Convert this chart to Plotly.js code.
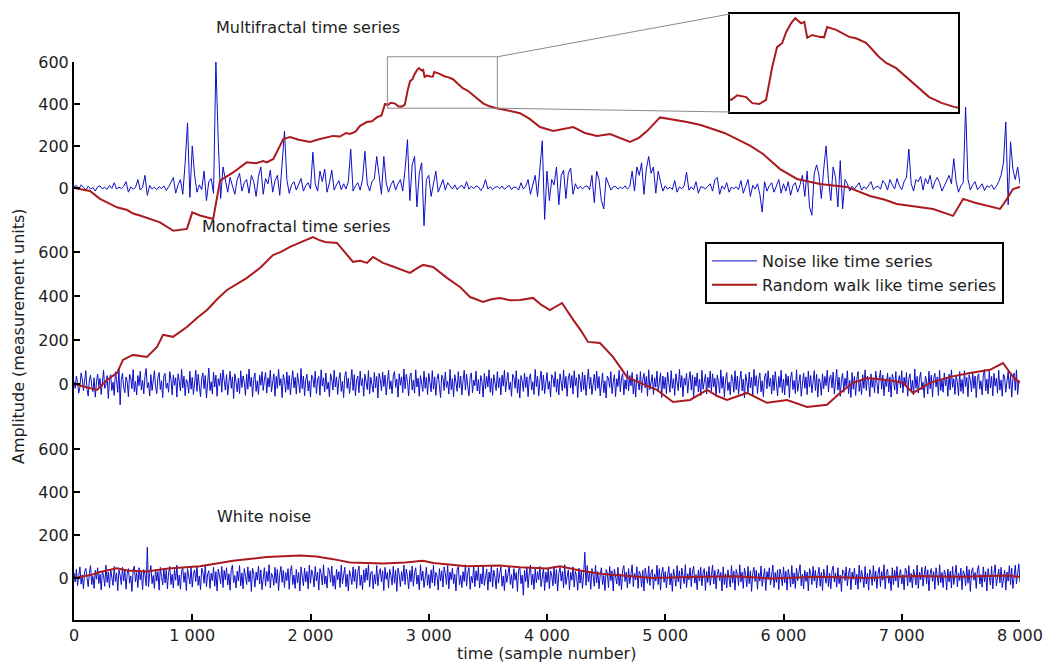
<!DOCTYPE html>
<html>
<head>
<meta charset="utf-8">
<script src="https://cdn.plot.ly/plotly-3.0.1.min.js"></script>
<style>html,body{margin:0;padding:0;background:#fff;}#chart{width:1053px;height:666px;}</style>
</head>
<body>
<div id="chart"></div>
<script>
// ---------------- DATA ----------------
// x-axis ticks
const timeTicks = [0, 1000, 2000, 3000, 4000, 5000, 6000, 7000, 8000];
const timeTickText = ['0', '1 000', '2 000', '3 000', '4 000', '5 000', '6 000', '7 000', '8 000'];
const ampTicks = [0, 200, 400, 600];

// Multifractal noise, one value every 20 samples (t = 0 ... 8000)
const multifractalNoise = [
  5, 12, -8, 15, 3, -10, 8, -5, 2, -15, 6, 10, -4, 3, -7, 12, -2, 25, -5, 4,
  -3, 8, 30, -20, 5, -6, 2, 40, -10, 3, 60, -35, 12, -5, 4, -8, 6, -3, 10, -12,
  5, 25, 50, -25, 15, 40, -30, 120, 310, -45, 200, 60, -20, 15, -8, 80, -60, 30, 45, -25,
  600, 220, -50, 100, 35, -20, 50, 15, -30, 40, 70, -15, 25, 40, -25, 60, 30, -40, 55, 100,
  -30, 45, 20, 85, -20, 35, 60, -35, 110, 270, 40, -25, 15, 30, -10, 20, 45, -15, 10, 25,
  -5, 170, 20, -15, 80, 30, 90, -20, 25, 85, -10, 15, 35, -8, 20, -5, 30, 185, -15, 10,
  25, -10, 40, 175, 20, -15, 30, 45, 150, 60, -30, 150, 25, -20, 15, 35, -10, 20, 40, -15,
  90, 230, -60, 110, 150, -90, 70, 120, -180, 40, 60, -40, 30, 80, -20, 15, 40, -10, 25, 10,
  -5, 15, -8, 6, 12, -4, 30, -6, 8, -3, 10, 5, -12, 4, 40, -5, 6, -8, 3, 7,
  -4, 9, -6, 3, 12, -8, 5, 2, -10, 25, -5, 8, 40, -30, 20, 60, -40, 90, 225, -150,
  80, -60, 40, 15, 100, -80, 60, 85, -50, 70, 95, -30, 20, -5, 8, -4, 6, 10, -8, 60,
  -70, 80, 40, -60, -100, 50, 20, -10, 5, 8, -6, 4, -3, 10, -5, 6, 80, -15, 100, 60,
  120, -30, 90, 150, 70, 100, -25, 80, 30, -15, 10, -5, 4, -8, 35, -20, 6, -4, 10, 75,
  -10, 5, -8, 30, -25, 6, 3, -5, 8, 20, -15, 40, 50, -30, 10, -6, 25, -20, 4, -3,
  6, -8, 35, -25, 8, 40, -40, 12, -5, 20, -30, -115, 30, -15, 10, 25, -20, 15, 40, -25,
  20, -15, 30, -35, 10, 25, -20, 15, 60, -40, 80, -90, -130, 70, 110, 60, -50, 90, 200, 40,
  -60, 100, 50, -90, 130, -100, 40, 20, -15, 8, -5, 10, 25, -10, 6, -4, 15, 30, -8, 5,
  8, -6, 35, 20, -10, 40, 15, -5, 45, 10, -8, 30, 50, 185, 20, -15, 40, 30, 55, -10,
  45, 20, 60, -5, 30, 50, 25, -15, 10, 35, 60, 20, 140, 30, -20, 10, 25, 385, 40, -10,
  15, 30, -8, 5, 20, -12, 10, 4, 15, -6, 8, 30, 60, 120, 314, -80, 220, 90, 40, 100,
  20
];
// Monofractal noise, one value every 10 samples (t = 0 ... 8000)
const monofractalNoise = [
  12, -20, 35, 8, -42, -15, 50, 22, -30, 5, 60, -25, -55, 18, 40, -8, -35, 28, -60, 10,
  45, -12, 25, -48, 30, 62, -20, -5, 38, -66, 15, 42, -30, 8, -52, 55, 20, -38, 70, -95,
  20, 48, -15, -40, 32, 10, -58, 44, 26, -22, 65, -35, 12, -50, 38, -8, 58, -28, 16, -45,
  34, 70, -18, 6, -55, 42, -30, 24, 60, -12, -44, 30, 52, -26, 14, -62, 36, 48, -20, 4,
  -38, 56, 22, -50, 40, -6, 28, -60, 46, 12, -32, 66, -18, 35, -54, 20, 8, -42, 58, -24,
  30, -48, 14, 62, -34, 44, -10, -58, 26, 50, -22, 38, -64, 18, 72, -30, 10, -46, 54, -14,
  40, -56, 24, -8, 48, -38, 64, 16, -28, 42, -50, 6, 58, -20, 32, -66, 46, 12, -36, 26,
  -44, 60, -16, 36, 8, -52, 44, -24, 68, -12, 30, -58, 22, 50, -34, 14, -48, 40, -6, 56,
  -30, 18, 52, -42, 28, -14, 62, -36, 10, 46, -56, 34, -20, 66, -8, 24, -62, 42, 16, -38,
  54, -26, 38, -50, 12, 60, -18, 30, -46, 48, 6, -40, 70, -22, 36, -54, 20, 44, -32, 14,
  -60, 40, 26, -16, 58, -44, 18, 34, -52, 64, -10, 28, -36, 50, -24, 8, -58, 46, 22, -28,
  62, -14, 32, -48, 20, 52, -34, 12, -62, 38, 56, -20, 26, -44, 10, 66, -30, 42, -54, 18,
  36, -40, 58, -8, 24, -56, 44, 16, -26, 60, -46, 30, 4, -38, 52, -18, 34, -64, 48, 20,
  -32, 54, -12, 40, -50, 28, 62, -24, 14, -44, 36, 56, -16, 22, -60, 46, -6, 32, -40, 68,
  -22, 44, 10, -54, 34, 50, -28, 18, -42, 64, -14, 26, -56, 38, 8, -34, 58, -20, 30, -48,
  48, 14, -36, 60, -24, 32, -52, 20, 46, -10, -62, 40, 28, -30, 54, -16, 12, -46, 66, -26,
  24, -58, 42, 8, -34, 56, -18, 36, -50, 16, 62, -28, 44, -12, -54, 30, 50, -40, 18, -8,
  58, -32, 20, -46, 38, 12, -60, 48, -22, 34, -14, 64, -38, 26, -52, 42, 6, -30, 56, -18,
  28, -50, 40, -10, 62, -36, 16, 52, -26, 8, -56, 44, 30, -20, 60, -42, 22, -64, 38, 14,
  -34, 50, -16, 32, -58, 24, 46, -28, 10, -48, 66, -12, 36, -54, 18, 58, -30, 40, -44, 20,
  52, -24, 12, -60, 42, 30, -14, 56, -38, 22, -50, 46, 8, -32, 64, -20, 34, -56, 26, 48,
  -18, 38, -46, 60, -8, 28, -62, 44, 16, -36, 54, -26, 40, -52, 12, 68, -22, 30, -48, 10,
  44, -30, 58, -20, 34, -54, 20, 50, -40, 14, -64, 36, 26, -16, 56, -44, 8, 42, -58, 24,
  -12, 62, -36, 28, 46, -50, 18, -24, 60, -32, 38, -8, 52, -46, 22, -60, 44, 14, -28, 56,
  -40, 20, 48, -18, 34, -56, 64, -26, 10, 42, -48, 28, -14, 58, -34, 16, 50, -62, 36, -22,
  30, -44, 54, 6, -38, 60, -20, 24, -52, 46, 12, -30, 66, -16, 38, -58, 26, -6, 48, -42,
  18, 56, -28, 40, -62, 32, -10, 50, -36, 22, -54, 62, -24, 14, 44, -46, 30, -18, 58, -34,
  46, -14, 26, -56, 40, 10, -42, 64, -20, 34, -60, 18, 52, -30, 8, -50, 42, 24, -38, 60,
  -26, 36, -48, 16, 58, -32, 22, -64, 44, 12, -40, 54, -18, 30, -52, 66, -10, 38, -44, 20,
  50, -36, 14, -58, 32, 48, -22, 60, -12, 26, -46, 40, -30, 56, 4, -54, 34, -16, 62, -40,
  22, -50, 46, -8, 36, -62, 28, 54, -26, 16, -44, 64, -34, 20, 42, -56, 10, 50, -20, 32,
  -48, 58, -14, 38, -40, 18, 60, -30, 44, -60, 24, 8, -52, 46, -22, 34, -8, 62, -36, 28,
  40, -18, 54, -46, 12, 66, -28, 30, -56, 20, 48, -38, 26, -12, 60, -44, 16, -62, 52, -24,
  34, -52, 22, 56, -34, 14, -48, 42, -20, 64, -30, 36, 10, -58, 46, -16, 28, -40, 58, -6,
  -44, 26, 62, -24, 40, -54, 18, -12, 50, -36, 32, -60, 44, 20, -28, 56, -46, 12, 38, -18,
  60, -40, 30, -10, 52, -56, 24, 46, -32, 16, -50, 68, -20, 34, -42, 22, 54, -26, 8, -62,
  36, 14, -46, 58, -22, 40, -60, 26, 48, -14, 32, -52, 62, -30, 18, -38, 50, -8, 28, -56,
  44, -28, 64, -16, 24, -48, 38, 10, -54, 56, -34, 20, -44, 60, -12, 30, -58, 42, 16, -36,
  54, -20, 36, -62, 28, 46, -24, 14, -50, 40, 66, -32, 22, -46, 58, -18, 34, -54, 48, -10,
  26, -42, 62, -28, 18, -56, 44, 32, -38, 12, 56, -22, 40, -60, 24, 50, -30, 64, -48, 16,
  10
];
// White noise, one value every 10 samples (t = 0 ... 8000)
const whiteNoise = [
  25, -18, 40, -35, 10, 52, -28, 15, -50, 30, 45, -12, -40, 22, 58, -30, 8, -48, 36, -6,
  48, -25, 18, -55, 32, 12, -38, 60, -20, 28, -46, 42, 6, -34, 54, -16, 24, -58, 38, 14,
  -30, 50, -14, 36, -52, 20, 44, -24, 10, -62, 34, 56, -18, 26, -44, 48, -8, 30, -54, 40,
  16, -36, 144, -40, 22, 58, -26, 12, -48, 42, -14, 30, -56, 50, 8, -32, 46, -22, 36, -50,
  24, 54, -30, 18, -46, 40, -10, 60, -36, 14, -52, 32, 48, -20, 26, -58, 44, 6, -28, 52,
  -42, 20, 38, -16, 56, -34, 10, -54, 46, 28, -24, 62, -40, 18, 34, -48, 22, -12, 50, -38,
  30, -60, 42, 14, -26, 54, -44, 36, -8, 48, -32, 20, -56, 40, 60, -22, 12, -46, 32, -14,
  58, -36, 24, -50, 44, 8, -30, 52, -18, 34, -62, 46, 16, -42, 28, -10, 56, -28, 38, -54,
  20, 48, -38, 30, -16, 62, -46, 22, 10, -34, 50, -24, 40, -58, 18, 54, -20, 36, -44, 26,
  -12, 44, -52, 32, 58, -30, 14, -48, 40, -22, 26, -60, 52, 6, -36, 46, -18, 30, -50, 60,
  -24, 38, 16, -42, 54, -14, 28, -56, 44, 20, -32, 62, -28, 10, -46, 48, 34, -20, 56, -38,
  12, -52, 40, -8, 30, -44, 60, -26, 22, 50, -40, 18, -60, 36, 8, -30, 52, -16, 42, -48,
  28, 56, -34, 14, -54, 38, -20, 46, -10, 62, -42, 24, 32, -50, 16, -28, 58, -36, 20, 44,
  -18, 34, -58, 50, -6, 26, -46, 40, 12, -32, 54, -24, 36, -62, 46, 18, -40, 30, -14, 60,
  -30, 42, 8, -50, 36, -18, 56, -38, 24, 48, -28, 14, -54, 62, -12, 32, -44, 20, 50, -34,
  16, -48, 38, -22, 60, -36, 26, 10, -56, 44, -14, 34, -42, 52, 22, -30, 58, -50, 28, -8,
  46, -26, 18, -60, 40, 54, -32, 12, -44, 30, -16, 62, -38, 24, 48, -52, 8, -22, 56, -40,
  34, -12, 50, -46, 20, -28, 58, -34, 14, 42, -56, 28, -18, 60, -42, 36, 4, -50, 46, -24,
  22, 52, -38, 10, -58, 40, -20, 32, 56, -30, 16, -48, 44, -10, 26, -62, 38, 50, -26, 14,
  -80, 36, -16, 48, -44, 24, 60, -32, 18, -52, 42, -22, 30, -8, 54, -40, 12, 46, -58, 28,
  -20, 44, -50, 34, 14, -36, 56, -26, 40, -60, 22, 50, -14, 30, -46, 62, -30, 18, 38, -54,
  26, -10, 52, -42, 32, 8, -56, 46, -24, 36, -48, 20, 120, -34, 58, -18, 28, -52, 44, 10,
  -38, 60, -22, 30, -50, 16, 48, -30, 12, -58, 40, 24, -44, 54, -12, 34, -60, 42, 6, -28,
  50, -36, 20, -54, 38, 58, -16, 28, -46, 44, -26, 14, 62, -40, 22, -8, 52, -48, 32, 18,
  -42, 36, -60, 46, 10, -24, 56, -34, 26, 40, -52, 18, -14, 60, -30, 44, -56, 24, 50, -20,
  30, -46, 14, 54, -32, 22, -62, 42, 8, -38, 58, -18, 34, -50, 46, 12, -26, 62, -44, 20,
  -8, 48, -40, 28, 56, -24, 16, -54, 38, -14, 50, -36, 24, 44, -58, 30, -20, 54, -34, 10,
  60, -28, 36, -50, 18, 42, -12, 26, -60, 52, -30, 20, -46, 38, 6, -42, 58, -22, 32, -56,
  40, 16, -34, 62, -18, 28, -48, 46, 12, -40, 54, -26, 34, -62, 22, 50, -16, 36, -52, 24,
  -14, 56, -38, 20, 44, -58, 30, -6, 48, -32, 16, 60, -44, 26, -20, 38, -54, 42, 14, -36,
  52, -22, 32, -56, 40, 10, -42, 58, -28, 24, -48, 46, -12, 30, 62, -36, 18, -50, 36, -16,
  28, -60, 44, 20, -30, 54, -14, 36, -46, 12, 50, -38, 26, -58, 42, 8, -24, 60, -40, 22,
  -50, 34, 56, -18, 24, -42, 48, -26, 14, -62, 38, 30, -12, 52, -36, 20, 46, -54, 28, -6,
  46, -32, 18, -52, 60, -20, 36, 4, -44, 54, -28, 22, -56, 40, 16, -34, 58, -16, 32, -48,
  24, 50, -40, 30, -10, 62, -50, 26, 42, -24, 12, -58, 48, -30, 36, -14, 54, -44, 20, 40,
  -28, 16, -54, 46, 34, -36, 58, -20, 22, -46, 40, 10, -32, 60, -48, 28, -8, 50, -38, 14,
  56, -26, 38, -60, 20, 44, -16, 30, -52, 48, 6, -34, 62, -22, 26, -44, 36, 18, -56, 42,
  -18, 32, -46, 54, -30, 14, 60, -40, 24, -12, 46, -54, 34, 20, -36, 56, -24, 40, -62, 28,
  48, -10, 26, -48, 38, 58, -28, 16, -42, 52, -18, 30, -60, 44, 12, -32, 54, -50, 22, 62,
  -36, 20, 42, -22, 50, -44, 14, 36, -56, 28, -14, 58, -30, 46, -48, 24, 60, -26, 34, 66,
  -20
];

// Random-walk-like series (sample number, amplitude)
const multiWalkT = [0, 135, 220, 363, 450, 500, 558, 640, 727, 840, 955, 1000, 1066, 1177, 1207, 1235, 1346, 1460, 1540, 1600, 1630, 1686, 1770, 1827, 1900, 1996, 2080, 2191, 2250, 2300, 2334, 2380, 2419, 2476, 2520, 2560, 2600, 2630,
  2655, 2680, 2716, 2741, 2769, 2797, 2822, 2842, 2863, 2879, 2899, 2916, 2940, 2953, 2965, 2985, 3014, 3034, 3046, 3083, 3136, 3164, 3205, 3258, 3287, 3328, 3394, 3462, 3515, 3564,
  3660, 3772, 3850, 3941, 4052, 4140, 4222, 4320, 4423, 4533, 4620, 4702, 4780, 4846, 4956, 5080, 5184, 5300, 5404, 5500, 5607, 5720, 5827, 5971, 6114, 6309, 6420, 6537, 6731, 6850, 6959, 7070, 7265, 7434, 7519, 7620, 7722, 7831, 7890, 7941, 8000];
const multiWalkV = [0, -14, -52, -92, -105, -122, -131, -148, -164, -204, -195, -116, -131, -148, -52, 35, 74, 122, 118, 128, 122, 138, 233, 243, 230, 219, 233, 248, 245, 262, 257, 268, 296, 314, 318, 336, 345, 400,
  396, 406, 402, 389, 387, 396, 466, 509, 518, 541, 560, 571, 560, 563, 529, 535, 531, 530, 552, 546, 531, 528, 518, 488, 475, 464, 434, 402, 389, 381,
  370, 356, 330, 290, 271, 282, 290, 262, 248, 257, 236, 219, 240, 271, 336, 325, 314, 300, 281, 262, 233, 200, 162, 90, 43, 19, 12, 5, -38, -55, -76, -86, -100, -133, -52, -70, -86, -100, -52, -5, 5];

const monoWalkT = [0, 110, 195, 279, 364, 414, 499, 617, 702, 753, 837, 955, 1040, 1125, 1210, 1294, 1380, 1463, 1573, 1683, 1750, 1827, 1900, 1971, 2021, 2070, 2123, 2224, 2290, 2359, 2420, 2478, 2528, 2613, 2732, 2841, 2900, 2951, 3036, 3100, 3154, 3264, 3349, 3400, 3459, 3530, 3603, 3690, 3772, 3882, 3950, 4025, 4127, 4222, 4290, 4347, 4448, 4558, 4676, 4787, 4930, 5066, 5210, 5354, 5440, 5522, 5691, 5861, 6030, 6199, 6368, 6478, 6588, 6706, 6876, 7010, 7095, 7239, 7408, 7577, 7746, 7856, 7941, 8000];
const monoWalkV = [0, -14, -27, 18, 50, 109, 132, 123, 168, 223, 214, 259, 300, 336, 385, 427, 455, 482, 527, 586, 600, 623, 640, 655, 668, 655, 645, 641, 600, 555, 560, 550, 577, 550, 527, 505, 525, 541, 532, 505, 482, 441, 395, 385, 373, 385, 391, 380, 382, 391, 360, 336, 368, 291, 240, 191, 186, 123, 32, 5, -27, -82, -73, -27, -55, -73, -41, -86, -73, -105, -95, -41, 5, 27, 18, 5, -41, 5, 32, 50, 64, 95, 32, 5];

const whiteWalkT = [0, 150, 220, 363, 450, 617, 800, 1066, 1346, 1630, 1911, 2051, 2191, 2334, 2615, 2800, 2951, 3040, 3321, 3603, 3772, 4000, 4110, 4279, 4450, 4617, 4900, 5184, 5600, 5900, 6300, 6700, 7100, 7500, 7900, 8000];
const whiteWalkV = [0, 15, 28, 45, 35, 30, 45, 55, 80, 98, 105, 100, 88, 72, 68, 72, 80, 70, 55, 58, 50, 45, 55, 35, 20, 12, 0, 5, 8, -2, 6, 0, 10, 6, 12, 5];

// zoomed window shown in the inset
const zoomT = [2650, 3580];
const zoomAmp = [380, 625];
const insetAmp = [370, 580];

// ---------------- LAYOUT ----------------
const W = 1053, H = 666;
const M = {l: 74, r: 33, t: 10, b: 46};
const plotW = W - M.l - M.r, plotH = H - M.t - M.b;
const pyF = y => (H - M.b - y) / plotH;   // pixel y -> paper
const pxF = x => (x - M.l) / plotW;       // pixel x -> paper

const P1 = {range: [-224, 600], dom: [pyF(235), pyF(62)]};
const P2 = {range: [-164, 677], dom: [pyF(420), pyF(235)]};
const P3 = {range: [-195, 735], dom: [0, pyF(420)]};
const insetDomX = [pxF(730), pxF(958)];
const insetDomY = [pyF(112), pyF(14)];
const xPaper = v => v / 8000;
const y1Paper = v => P1.dom[0] + (v - P1.range[0]) / (P1.range[1] - P1.range[0]) * (P1.dom[1] - P1.dom[0]);

const times = arr => arr.map((_, i) => i * 8000 / (arr.length - 1));

const BLUE = 'rgb(14,14,200)';
const RED = 'rgb(170,26,30)';
const FONT = 'DejaVu Sans, sans-serif';
const TXT = '#1e1e1e';

const traces = [
  {x: times(multifractalNoise), y: multifractalNoise, xaxis: 'x', yaxis: 'y', type: 'scatter', mode: 'lines',
   line: {color: BLUE, width: 1}, name: 'Noise like time series', showlegend: true},
  {x: multiWalkT, y: multiWalkV, xaxis: 'x', yaxis: 'y', type: 'scatter', mode: 'lines',
   line: {color: RED, width: 2}, name: 'Random walk like time series', showlegend: true},
  {x: times(monofractalNoise), y: monofractalNoise, xaxis: 'x', yaxis: 'y2', type: 'scatter', mode: 'lines',
   line: {color: BLUE, width: 1}, showlegend: false},
  {x: monoWalkT, y: monoWalkV, xaxis: 'x', yaxis: 'y2', type: 'scatter', mode: 'lines',
   line: {color: RED, width: 2}, showlegend: false},
  {x: times(whiteNoise), y: whiteNoise, xaxis: 'x', yaxis: 'y3', type: 'scatter', mode: 'lines',
   line: {color: BLUE, width: 1}, showlegend: false},
  {x: whiteWalkT, y: whiteWalkV, xaxis: 'x', yaxis: 'y3', type: 'scatter', mode: 'lines',
   line: {color: RED, width: 2}, showlegend: false},
  {x: multiWalkT, y: multiWalkV, xaxis: 'x2', yaxis: 'y4', type: 'scatter', mode: 'lines',
   line: {color: RED, width: 2}, showlegend: false}
];

const yBase = {
  anchor: 'x', showline: true, linecolor: '#000', linewidth: 2,
  ticks: 'inside', ticklen: 6, tickwidth: 2, tickcolor: '#000',
  tickvals: ampTicks, showgrid: false, zeroline: false,
  tickfont: {family: FONT, size: 16, color: TXT}
};

const layout = {
  width: W, height: H, margin: M,
  paper_bgcolor: '#fff', plot_bgcolor: 'rgba(0,0,0,0)',
  font: {family: FONT, size: 16, color: TXT},
  showlegend: true,
  legend: {
    x: pxF(705), y: pyF(242), xanchor: 'left', yanchor: 'top',
    bgcolor: '#fff', bordercolor: '#000', borderwidth: 2, itemwidth: 45,
    font: {family: FONT, size: 16, color: TXT}, tracegroupgap: 0
  },
  xaxis: {
    domain: [0, 1], range: [0, 8000], anchor: 'y3',
    showline: true, linecolor: '#000', linewidth: 2,
    ticks: 'inside', ticklen: 6, tickwidth: 2, tickcolor: '#000',
    tickvals: timeTicks, ticktext: timeTickText,
    showgrid: false, zeroline: false,
    tickfont: {family: FONT, size: 16, color: TXT}
  },
  yaxis: Object.assign({}, yBase, {domain: P1.dom, range: P1.range}),
  yaxis2: Object.assign({}, yBase, {domain: P2.dom, range: P2.range}),
  yaxis3: Object.assign({}, yBase, {domain: P3.dom, range: P3.range}),
  xaxis2: {domain: insetDomX, range: zoomT, anchor: 'y4', showline: true, mirror: true,
    linecolor: '#000', linewidth: 2, ticks: '', showticklabels: false, showgrid: false, zeroline: false},
  yaxis4: {domain: insetDomY, range: insetAmp, anchor: 'x2', showline: true, mirror: true,
    linecolor: '#000', linewidth: 2, ticks: '', showticklabels: false, showgrid: false, zeroline: false},
  shapes: [
    {type: 'rect', xref: 'paper', yref: 'paper', x0: xPaper(zoomT[0]), x1: xPaper(zoomT[1]),
     y0: y1Paper(zoomAmp[0]), y1: y1Paper(zoomAmp[1]), line: {color: '#8a8a8a', width: 1}},
    {type: 'line', xref: 'paper', yref: 'paper', x0: xPaper(zoomT[1]), y0: y1Paper(zoomAmp[1]),
     x1: insetDomX[0], y1: insetDomY[1], line: {color: '#8a8a8a', width: 1}},
    {type: 'line', xref: 'paper', yref: 'paper', x0: xPaper(zoomT[1]), y0: y1Paper(zoomAmp[0]),
     x1: insetDomX[0], y1: insetDomY[0], line: {color: '#8a8a8a', width: 1}}
  ],
  annotations: [
    {text: 'Multifractal time series', xref: 'paper', yref: 'paper', x: pxF(308), y: pyF(28),
     xanchor: 'center', yanchor: 'middle', showarrow: false, font: {family: FONT, size: 16, color: TXT}},
    {text: 'Monofractal time series', xref: 'paper', yref: 'paper', x: pxF(296), y: pyF(226),
     xanchor: 'center', yanchor: 'middle', showarrow: false, font: {family: FONT, size: 16, color: TXT}},
    {text: 'White noise', xref: 'paper', yref: 'paper', x: pxF(264), y: pyF(516),
     xanchor: 'center', yanchor: 'middle', showarrow: false, font: {family: FONT, size: 16, color: TXT}},
    {text: 'time (sample number)', xref: 'paper', yref: 'paper', x: pxF(546), y: pyF(653),
     xanchor: 'center', yanchor: 'middle', showarrow: false, font: {family: FONT, size: 16, color: TXT}},
    {text: 'Amplitude (measurement units)', xref: 'paper', yref: 'paper', x: pxF(18), y: pyF(336),
     xanchor: 'center', yanchor: 'middle', textangle: -90, showarrow: false, font: {family: FONT, size: 16, color: TXT}}
  ]
};

Plotly.newPlot('chart', traces, layout, {displayModeBar: false, staticPlot: true});
</script>
</body>
</html>
